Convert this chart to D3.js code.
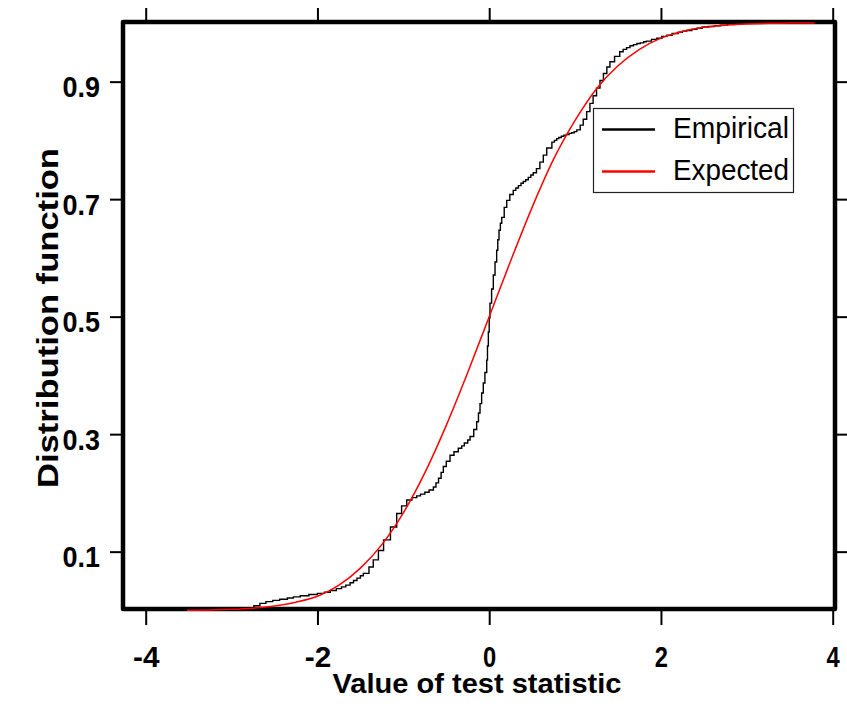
<!DOCTYPE html>
<html>
<head>
<meta charset="utf-8">
<script src="https://cdn.jsdelivr.net/npm/d3@7"></script>
<style>
body{margin:0;background:#fff;}
text{font-family:"Liberation Sans",Arial,sans-serif;fill:#000;}
</style>
</head>
<body>
<svg class="chart" width="847" height="710"></svg>
<script>

var xTicks = [-4,-2,0,2,4];
var yTicks = [0.1,0.3,0.5,0.7,0.9];

// expected distribution function
var expX = [-3.52,-3.25,-3,-2.75,-2.5,-2.25,-2,-1.75,-1.5,-1.25,-1,-0.75,-0.5,-0.25,0,0.25,0.5,0.75,1,1.25,1.5,1.75,2,2.25,2.5,2.75,3,3.25,3.5,3.79];
var expF = [0.0003,0.0008,0.0018,0.0038,0.0074,0.014,0.024,0.043,0.072,0.112,0.166,0.234,0.315,0.405,0.5,0.595,0.686,0.768,0.834,0.888,0.927,0.955,0.974,0.9855,0.9924,0.9962,0.9982,0.9992,0.9997,0.9999];

// empirical distribution function
var empX = [-3.5,-2.82,-2.74,-2.67,-2.6,-2.52,-2.44,-2.35,-2.28,-2.2,-2.1,-2,-1.92,-1.85,-1.78,-1.72,-1.67,-1.62,-1.58,-1.54,-1.5,-1.466,-1.4,-1.35,-1.29,-1.23,-1.15,-1.077,-1.02,-0.96,-0.9,-0.844,-0.8,-0.75,-0.7,-0.65,-0.62,-0.59,-0.56,-0.534,-0.5,-0.456,-0.41,-0.36,-0.32,-0.29,-0.25,-0.223,-0.18,-0.146,-0.125,-0.107,-0.088,-0.069,-0.05,-0.029,-0.02,-0.01,0,0.009,0.028,0.048,0.068,0.087,0.1,0.114,0.13,0.146,0.175,0.204,0.24,0.28,0.31,0.34,0.37,0.397,0.425,0.455,0.485,0.513,0.55,0.59,0.63,0.67,0.73,0.76,0.786,0.81,0.84,0.87,0.9,0.93,0.96,0.99,1.02,1.06,1.095,1.135,1.173,1.21,1.25,1.29,1.33,1.37,1.406,1.46,1.52,1.56,1.6,1.64,1.68,1.72,1.76,1.8,1.83,1.89,1.95,2.01,2.07,2.13,2.2,2.25,2.3,2.36,2.42,2.48,2.55,2.62,2.69,2.77,2.86];
var empF = [0,0.004,0.008,0.012,0.015,0.017,0.019,0.021,0.023,0.025,0.027,0.029,0.031,0.034,0.037,0.04,0.043,0.047,0.051,0.055,0.059,0.063,0.074,0.086,0.102,0.12,0.142,0.165,0.178,0.188,0.192,0.195,0.198,0.201,0.205,0.21,0.217,0.225,0.235,0.245,0.254,0.264,0.27,0.276,0.28,0.285,0.29,0.296,0.308,0.321,0.336,0.352,0.37,0.387,0.405,0.426,0.45,0.474,0.498,0.523,0.547,0.571,0.593,0.613,0.631,0.647,0.659,0.669,0.686,0.698,0.708,0.715,0.719,0.723,0.727,0.73,0.733,0.737,0.741,0.745,0.752,0.763,0.775,0.787,0.797,0.8,0.803,0.805,0.807,0.809,0.81,0.812,0.813,0.815,0.818,0.826,0.836,0.849,0.863,0.876,0.889,0.902,0.914,0.925,0.934,0.943,0.951,0.955,0.958,0.961,0.963,0.965,0.966,0.968,0.969,0.972,0.974,0.977,0.979,0.982,0.984,0.986,0.987,0.989,0.991,0.993,0.994,0.995,0.996,0.997,0.998];

var legendNames = ["Empirical","Expected"];
var legendColors = ["#000","#ff0000"];

var boxLeft = 123, boxRight = 835, boxTop = 22, boxBottom = 609;

var chart = d3.select(".chart");

var x = d3.scaleLinear().domain([-4,4]).range([145.7,832.7]);
var y = d3.scaleLinear().domain([0,1]).range([610.4,22.9]);

function fmt(d){ return String(d); }

var axB = chart.append("g").attr("transform","translate(0,"+(boxBottom+2)+")")
	.call(d3.axisBottom(x).tickValues(xTicks).tickSize(14).tickPadding(21).tickFormat(fmt));
var axT = chart.append("g").attr("transform","translate(0,"+(boxTop-2)+")")
	.call(d3.axisTop(x).tickValues(xTicks).tickSize(12).tickFormat(""));
var axL = chart.append("g").attr("transform","translate("+(boxLeft-2)+",0)")
	.call(d3.axisLeft(y).tickValues(yTicks).tickSize(11).tickPadding(10).tickFormat(d3.format(".1f")));
var axR = chart.append("g").attr("transform","translate("+(boxRight+2)+",0)")
	.call(d3.axisRight(y).tickValues(yTicks).tickSize(12).tickFormat(""));

[axB,axT,axL,axR].forEach(function(a){
	a.select(".domain").remove();
	a.selectAll("line").attr("stroke","#000").attr("stroke-width",2);
});

// tick labels in the reference are tall and a bit narrow
axB.selectAll(".tick text").each(function(){
	var t = d3.select(this), s = t.text();
	t.attr("textLength", s.length * 13.2).attr("lengthAdjust","spacingAndGlyphs");
});
axL.selectAll(".tick text").attr("dy","0.5em").attr("textLength",37.5).attr("lengthAdjust","spacingAndGlyphs");
[axB,axL].forEach(function(a){
	a.selectAll("text").attr("fill","#000").style("font-size","30px").style("font-weight","bold")
		.style("font-family","'Liberation Sans',Arial,sans-serif");
});

chart.append("rect").attr("x",boxLeft).attr("y",boxTop).attr("width",boxRight-boxLeft).attr("height",boxBottom-boxTop)
	.attr("fill","none").attr("stroke","#000").attr("stroke-width",4.5).attr("stroke-linejoin","round");

var emp = empX.map(function(d,i){ return [d, empF[i]]; });
var exp = expX.map(function(d,i){ return [d, expF[i]]; });

var stepLine = d3.line().x(function(d){return x(d[0]);}).y(function(d){return y(d[1]);}).curve(d3.curveStepAfter);
var smoothLine = d3.line().x(function(d){return x(d[0]);}).y(function(d){return y(d[1]);}).curve(d3.curveMonotoneX);

chart.append("path").datum(emp).attr("d",stepLine).attr("fill","none").attr("stroke","#000").attr("stroke-width",1.4);
chart.append("path").datum(exp).attr("d",smoothLine).attr("fill","none").attr("stroke","#ff0000").attr("stroke-width",1.5);

chart.append("text").attr("x",477).attr("y",693).attr("text-anchor","middle")
	.attr("textLength",289).attr("lengthAdjust","spacingAndGlyphs")
	.style("font-size","28px").style("font-weight","bold").text("Value of test statistic");

chart.append("text").attr("transform","translate(58,318) rotate(-90)").attr("text-anchor","middle")
	.attr("textLength",340).attr("lengthAdjust","spacingAndGlyphs")
	.style("font-size","29px").style("font-weight","bold").text("Distribution function");

var legend = chart.append("g");
legend.append("rect").attr("x",593.5).attr("y",108.5).attr("width",200).attr("height",84)
	.attr("fill","#fff").attr("stroke","#222").attr("stroke-width",1.2);

var item = legend.selectAll("g.item").data(legendNames).enter().append("g").attr("class","item")
	.attr("transform",function(d,i){ return "translate(0,"+(i*42)+")"; });
item.append("line").attr("x1",602).attr("x2",655).attr("y1",129.5).attr("y2",129.5)
	.attr("stroke",function(d,i){return legendColors[i];}).attr("stroke-width",2.5);
item.append("text").attr("x",673).attr("y",138).attr("textLength",116).attr("lengthAdjust","spacingAndGlyphs")
	.style("font-size","30px").text(function(d){return d;});

</script>
</body>
</html>
